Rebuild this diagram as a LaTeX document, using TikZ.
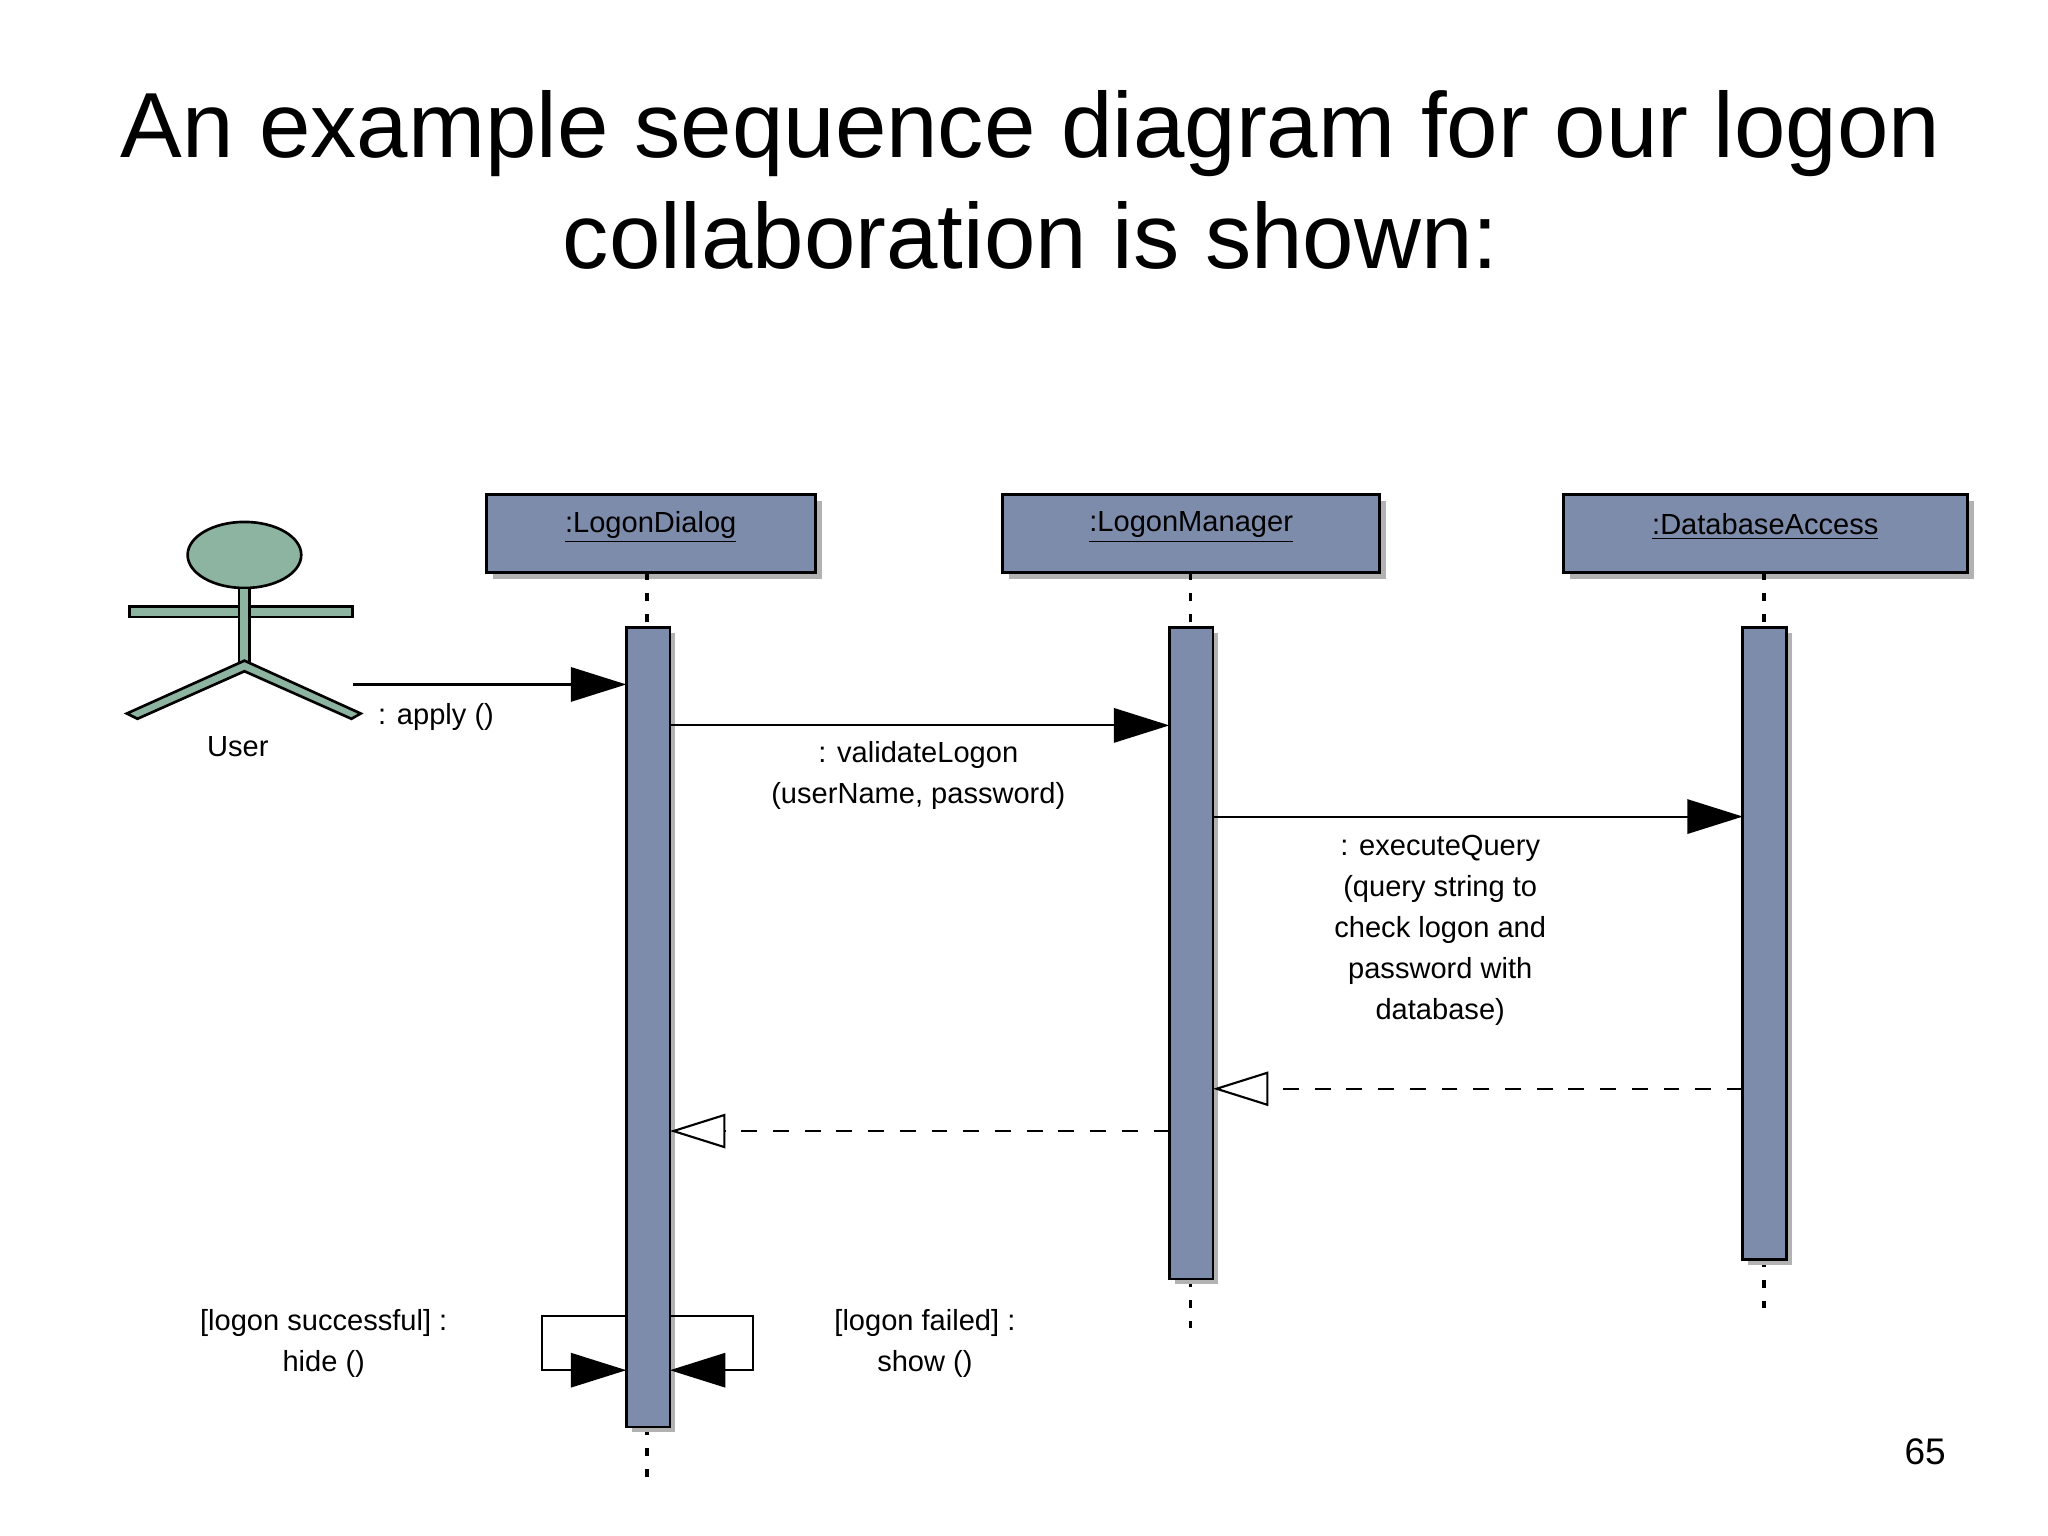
\documentclass[tikz,border=0pt]{standalone}
\usepackage{fontspec}
\setmainfont{Liberation Sans}
\usetikzlibrary{arrows.meta,shapes.geometric}
\definecolor{objfill}{HTML}{7E8CAB}
\definecolor{actorc}{HTML}{8DB4A0}
\tikzset{
  obj/.style={draw=black,line width=1.2pt,fill=objfill,anchor=north west,inner sep=0pt,font=\fontsize{11}{13}\selectfont},
  act/.style={draw=black,line width=1pt,fill=objfill},
  life/.style={line width=1.5pt,dash pattern=on 3pt off 5pt},
  msg/.style={line width=0.8pt,-{Triangle[length=21pt,width=13pt]}},
  ret/.style={line width=0.8pt,dash pattern=on 6pt off 6pt,-{Triangle[open,length=21pt,width=13pt,fill=white]}},
  lbl/.style={font=\fontsize{11}{15.5}\selectfont,align=center}
}
\begin{document}
\begin{tikzpicture}[x=0.5pt,y=-0.5pt]
\useasboundingbox (0,0) rectangle (1550,1162);
\node[font=\fontsize{35}{42}\selectfont,align=center] (title) at (780,136) {An example sequence diagram for our logon\\collaboration is shown:};
% objects with shadows
\foreach \a/\b/\t/\n in {368/617/{:LogonDialog}/od,759/1044/{:LogonManager}/om,1183/1489/{:DatabaseAccess}/oa}{
  \fill[gray!60] (\a+5,379) rectangle (\b+5,438);
  \draw[obj] (\a,374) rectangle (\b,433);
  \node[font=\fontsize{11}{13}\selectfont] (\n) at ({(\a+\b)/2},399) {\underline{\t}};
}
% lifelines
\draw[life] (490,433) -- (490,475);
\draw[life] (490,1080) -- (490,1122);
\draw[life] (901,433) -- (901,475);
\draw[life] (901,968) -- (901,1005);
\draw[life] (1335,433) -- (1335,475);
\draw[life] (1335,953) -- (1335,990);
% activations
\fill[gray!60] (478,479) rectangle (511,1084);
\draw[act] (474,475) rectangle (507,1080);
\fill[gray!60] (889,479) rectangle (922,972);
\draw[act] (885,475) rectangle (918,968);
\fill[gray!60] (1323,479) rectangle (1356,957);
\draw[act] (1319,475) rectangle (1352,953);
\coordinate (d1) at (474,518); \coordinate (u1) at (267,518);
\coordinate (d2) at (507,549); \coordinate (m2) at (885,549);
\coordinate (m3) at (918,618); \coordinate (a3) at (1319,618);
\coordinate (a4) at (1319,824); \coordinate (m4) at (918,824);
\coordinate (m5) at (885,856); \coordinate (d5) at (507,856);
% actor
\begin{scope}[line width=1pt,draw=black,fill=actorc]
\draw[fill=actorc] (185,420) ellipse (43 and 25);
\draw[fill=actorc] (98,459) rectangle (267,467);
\draw[fill=actorc] (181,445) rectangle (189,505);
\draw[fill=actorc] (185,500) -- (96,540) -- (104,544) -- (185,508) -- (266,544) -- (273,540) -- cycle;
\end{scope}
\node[lbl] (user) at (180,565) {User};
% messages
\draw[msg] (u1) -- (d1);
\node[lbl] at (330,543) {: apply ()};
\draw[msg] (d2) -- (m2);
\node[lbl] at (695,587) {: validateLogon\\(userName, password)};
\draw[msg] (m3) -- (a3);
\node[lbl] at (1090,704) {: executeQuery\\(query string to\\check logon and\\password with\\database)};
\draw[ret] (a4) -- (m4);
\draw[ret] (m5) -- (d5);
% self loops
\draw[line width=0.8pt,-{Triangle[length=21pt,width=13pt]}] (474,996) -- (410,996) -- (410,1037) -- (474,1037);
\draw[line width=0.8pt,-{Triangle[length=21pt,width=13pt]}] (507,996) -- (570,996) -- (570,1037) -- (507,1037);
\node[lbl] at (245,1017) {[logon successful] :\\hide ()};
\node[lbl] at (700,1017) {[logon failed] :\\show ()};
\node[font=\fontsize{14}{16}\selectfont] (pg) at (1457,1099) {65};
\end{tikzpicture}
\end{document}
